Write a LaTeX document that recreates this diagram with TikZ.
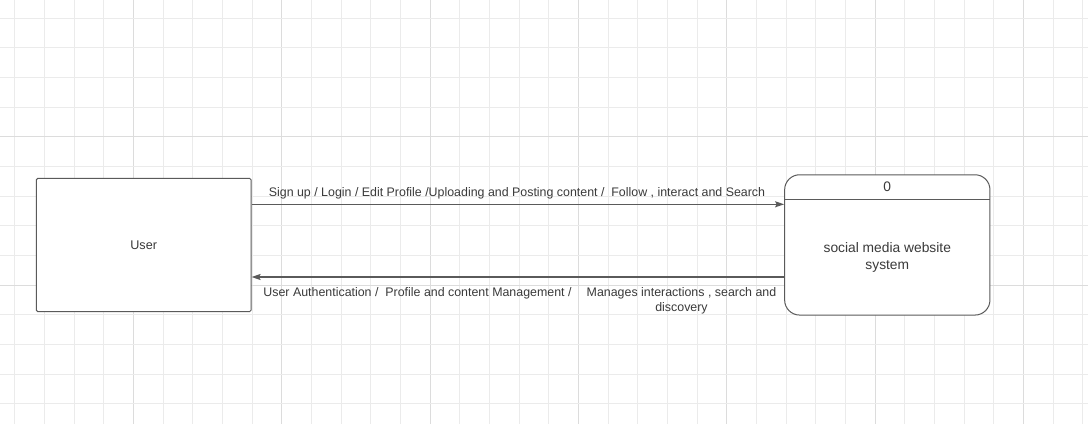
\documentclass[tikz,border=0pt]{standalone}
\usepackage{fontspec}
\setmainfont{Liberation Sans}
\usetikzlibrary{arrows.meta}
\definecolor{minorgrid}{HTML}{EBEBEB}
\definecolor{majorgrid}{HTML}{DCDCDC}
\definecolor{edge}{HTML}{5A5A5A}
\definecolor{txt}{HTML}{3A3A3A}
\tikzset{
  boxstyle/.style={draw=edge, line width=1pt, fill=white, text=txt, font=\fontsize{12.6}{15}\selectfont, inner sep=0pt},
  lbl/.style={text=txt, font=\fontsize{12.4}{14.6}\selectfont, inner sep=0pt, align=center},
  biglbl/.style={text=txt, font=\fontsize{13.8}{17}\selectfont, inner sep=0pt, align=center},
  flow/.style={draw=edge, line width=1.5pt, -{Stealth[length=9pt,width=6pt,inset=1.5pt]}}
}
\begin{document}
\begin{tikzpicture}[x=1pt,y=-1pt]
\useasboundingbox (0,0) rectangle (1088,424);
\fill[white] (0,0) rectangle (1088,424);
% grid
\foreach \k in {0,...,36}{
  \pgfmathsetmacro{\xx}{14.9+29.66*\k}
  \pgfmathtruncatemacro{\mm}{mod(\k,5)}
  \ifnum\mm=4
    \draw[majorgrid, line width=1pt] (\xx,0) -- (\xx,424);
  \else
    \draw[minorgrid, line width=1pt] (\xx,0) -- (\xx,424);
  \fi
}
\foreach \k in {0,...,14}{
  \pgfmathsetmacro{\yy}{18.3+29.66*\k}
  \pgfmathtruncatemacro{\mm}{mod(\k,5)}
  \ifnum\mm=4
    \draw[majorgrid, line width=1pt] (0,\yy) -- (1088,\yy);
  \else
    \draw[minorgrid, line width=1pt] (0,\yy) -- (1088,\yy);
  \fi
}
% nodes
\node[boxstyle, rounded corners=1.5pt, minimum width=214.7pt, minimum height=133.4pt] (user) at (143.7,245) {User};
\node[boxstyle, rounded corners=15pt, minimum width=205.3pt, minimum height=140.3pt] (proc) at (887.3,244.9) {};
\coordinate (divy) at (0,199);
\draw[edge, line width=1pt] (proc.west |- divy) -- (proc.east |- divy);
\node[biglbl] (pid) at (887.3,186.5) {0};
\node[biglbl] (pname) at (887.3,257) {social media website\\system};
% connectors
\coordinate (ya) at (0,204.3);
\coordinate (yb) at (0,277);
\draw[flow] (user.east |- ya) -- (proc.west |- ya);
\draw[flow] (proc.west |- yb) -- (user.east |- yb);
% labels
\node[lbl] (la) at (517,193) {Sign up / Login / Edit Profile /Uploading and Posting content /\ \ Follow , interact and Search};
\node[lbl] (lb) at (417.5,293.5) {User Authentication /\ \ Profile and content Management /};
\node[lbl] (lc) at (681.5,300.5) {Manages interactions , search and\\discovery};
\end{tikzpicture}
\end{document}
